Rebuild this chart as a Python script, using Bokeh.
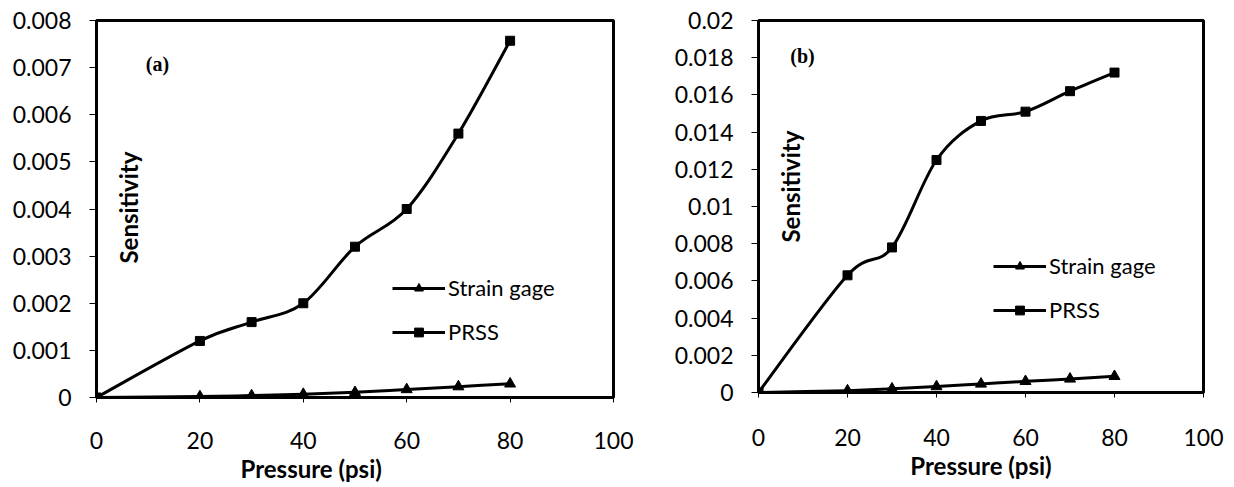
import numpy as np
from bokeh.plotting import figure
from bokeh.models import Range1d, FixedTicker, Legend, LegendItem, Label, Title, ColumnDataSource
from bokeh.layouts import row
from bokeh.embed import file_html
from bokeh.resources import INLINE

# ---------------- data ----------------
pressure = [0, 20, 30, 40, 50, 60, 70, 80]

prss_a = [0, 0.0012, 0.0016, 0.0020, 0.0032, 0.0040, 0.0056, 0.00757]
strain_a = [0, 0.00002, 0.00004, 0.00007, 0.00011, 0.00017, 0.00023, 0.00029]

prss_b = [0, 0.0063, 0.0078, 0.0125, 0.0146, 0.0151, 0.0162, 0.0172]
strain_b = [0, 0.0001, 0.0002, 0.00032, 0.00046, 0.0006, 0.00073, 0.00087]

x_ticks = [0, 20, 40, 60, 80, 100]
x_tick_labels = ["0", "20", "40", "60", "80", "100"]

y_ticks_a = [0, 0.001, 0.002, 0.003, 0.004, 0.005, 0.006, 0.007, 0.008]
y_tick_labels_a = ["0", "0.001", "0.002", "0.003", "0.004", "0.005", "0.006", "0.007", "0.008"]

y_ticks_b = [0, 0.002, 0.004, 0.006, 0.008, 0.01, 0.012, 0.014, 0.016, 0.018, 0.02]
y_tick_labels_b = ["0", "0.002", "0.004", "0.006", "0.008", "0.01", "0.012", "0.014", "0.016", "0.018", "0.02"]

series_names = ["Strain gage", "PRSS"]
x_title = "Pressure (psi)"
y_title = "Sensitivity"

FONT = "Lato"


def smooth_source(xs, ys):
    """Bezier segments (Catmull-Rom style, like a spreadsheet 'smoothed line')."""
    x = np.asarray(xs, float)
    y = np.asarray(ys, float)
    xp = np.concatenate([[x[0]], x, [x[-1]]])
    yp = np.concatenate([[y[0]], y, [y[-1]]])
    tx = (xp[2:] - xp[:-2]) / 6.0
    ty = (yp[2:] - yp[:-2]) / 6.0
    return ColumnDataSource(dict(
        x0=x[:-1], y0=y[:-1], x1=x[1:], y1=y[1:],
        cx0=x[:-1] + tx[:-1], cy0=y[:-1] + ty[:-1],
        cx1=x[1:] - tx[1:], cy1=y[1:] - ty[1:],
    ))


def make_panel(width, height, borders, y_max, y_ticks, y_labels, prss, strain,
               tag, tag_pos, sens_pos, legend_loc, x_standoff, title_align, title_offset):
    bl, br, bt, bb = borders
    p = figure(width=width, height=height, output_backend="svg", toolbar_location=None,
               x_range=Range1d(0, 100), y_range=Range1d(0, y_max),
               min_border_left=bl, min_border_right=br, min_border_top=bt, min_border_bottom=bb)
    p.grid.visible = False
    p.outline_line_color = "black"
    p.outline_line_width = 3
    p.background_fill_color = "white"
    p.border_fill_color = "white"

    xa = p.xaxis[0]
    xa.ticker = FixedTicker(ticks=x_ticks)
    xa.major_label_overrides = {t: l for t, l in zip(x_ticks, x_tick_labels)}
    ya = p.yaxis[0]
    ya.ticker = FixedTicker(ticks=y_ticks)
    ya.major_label_overrides = {t: l for t, l in zip(y_ticks, y_labels)}

    for ax in (xa, ya):
        ax.axis_line_color = "black"
        ax.axis_line_width = 3
        ax.major_tick_line_color = "black"
        ax.major_tick_line_width = 1
        ax.major_tick_in = 0
        ax.minor_tick_line_color = None
        ax.major_label_text_font = FONT
        ax.major_label_text_font_size = "23px"
        ax.major_label_text_color = "black"
    xa.major_tick_out = 5
    ya.major_tick_out = 7
    xa.major_label_standoff = x_standoff
    xa.major_label_text_line_height = 1.0
    ya.major_label_standoff = 18

    p.add_layout(Title(text=x_title, align=title_align, offset=title_offset, standoff=0,
                       text_font=FONT, text_font_style="bold", text_font_size="24px",
                       text_line_height=1.0, text_color="black"), "below")

    s_src = smooth_source(pressure, strain)
    p_src = smooth_source(pressure, prss)
    bz_s = p.bezier(x0="x0", y0="y0", x1="x1", y1="y1", cx0="cx0", cy0="cy0", cx1="cx1", cy1="cy1",
                    source=s_src, line_color="black", line_width=3)
    bz_p = p.bezier(x0="x0", y0="y0", x1="x1", y1="y1", cx0="cx0", cy0="cy0", cx1="cx1", cy1="cy1",
                    source=p_src, line_color="black", line_width=3)
    sc_s = p.scatter(pressure, strain, marker="triangle", size=11, color="black")
    sc_p = p.scatter(pressure, prss, marker="square", size=9, color="black")

    legend = Legend(items=[LegendItem(label=series_names[0], renderers=[bz_s, sc_s]),
                           LegendItem(label=series_names[1], renderers=[bz_p, sc_p])],
                    location=legend_loc, padding=0, margin=0, spacing=17,
                    glyph_width=53, glyph_height=22, label_height=22, label_standoff=3,
                    border_line_alpha=0, background_fill_alpha=0,
                    label_text_font=FONT, label_text_font_size="22px", label_text_color="black")
    p.add_layout(legend)

    p.add_layout(Label(x=tag_pos[0], y=tag_pos[1], text=tag, text_font="Liberation Serif",
                       text_font_style="bold", text_font_size="20px", text_align="center",
                       text_baseline="middle", text_color="black"))
    p.add_layout(Label(x=sens_pos[0], y=sens_pos[1], text=y_title, text_font=FONT,
                       text_font_style="bold", text_font_size="24px", text_align="center",
                       text_baseline="middle", angle=np.pi / 2, text_color="black"))
    return p


pa = make_panel(640, 485, (96, 27, 20, 88), 0.008, y_ticks_a, y_tick_labels_a, prss_a, strain_a,
                "(a)", (11.8, 0.00707), (6.2, 0.00403), (296, 52), 29, "left", 144)
pb = make_panel(586, 480, (118, 23, 20, 88), 0.02, y_ticks_b, y_tick_labels_b, prss_b, strain_b,
                "(b)", (9.9, 0.01807), (7.2, 0.01107), (235, 69), 31, "center", 0)

layout = row(pa, pb)
open("out.html", "w").write(file_html(layout, INLINE))
